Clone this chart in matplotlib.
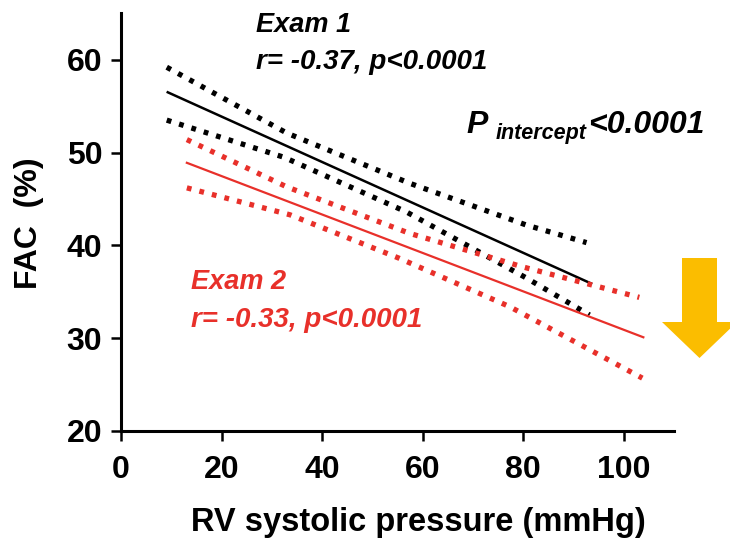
import numpy as np
import matplotlib.pyplot as plt
from matplotlib.patches import Polygon

plt.rcParams['font.family'] = ['Liberation Sans', 'DejaVu Sans']

# regression fits (FAC % vs RV systolic pressure), exam 1 and exam 2
exam1_fit_x = [9.3, 93.5]
exam1_fit_y = [56.5, 35.9]
exam1_upper_x = [9.1, 33.0, 57.4, 80.6, 92.6]
exam1_upper_y = [59.2, 52.1, 46.7, 42.2, 40.3]
exam1_lower_x = [9.1, 32.4, 56.8, 80.6, 93.2]
exam1_lower_y = [53.5, 49.5, 43.6, 36.5, 32.5]

exam2_fit_x = [13.1, 103.9]
exam2_fit_y = [48.9, 30.1]
exam2_upper_x = [13.1, 33.0, 57.4, 79.8, 103.1]
exam2_upper_y = [51.4, 46.3, 41.3, 37.7, 34.4]
exam2_lower_x = [13.1, 33.6, 55.4, 77.3, 103.7]
exam2_lower_y = [46.2, 43.3, 38.6, 33.4, 25.7]

x_ticks = [0, 20, 40, 60, 80, 100]
y_ticks = [20, 30, 40, 50, 60]

RED = '#e8302a'
GOLD = '#fbbd00'

W, H = 730, 542
fig = plt.figure(figsize=(W / 100, H / 100), dpi=100)
ax = fig.add_axes([121 / W, (H - 431) / H, 553 / W, 417.6 / H])


def fx(px):
    return px / W


def fy(py):
    return (H - py) / H


dot = dict(lw=3.8, linestyle=(0, (0.9, 1.55)), dash_capstyle='butt')

ax.plot(exam1_fit_x, exam1_fit_y, color='black', lw=1.8)
ax.plot(exam1_upper_x, exam1_upper_y, color='black', **dot)
ax.plot(exam1_lower_x, exam1_lower_y, color='black', **dot)

ax.plot(exam2_fit_x, exam2_fit_y, color=RED, lw=1.6)
ax.plot(exam2_upper_x, exam2_upper_y, color=RED, **dot)
ax.plot(exam2_lower_x, exam2_lower_y, color=RED, **dot)

ax.set_xlim(0, 110)
ax.set_ylim(20, 65)
ax.set_xticks(x_ticks)
ax.set_yticks(y_ticks)
for s in ['top', 'right']:
    ax.spines[s].set_visible(False)
for s in ['left', 'bottom']:
    ax.spines[s].set_linewidth(2.2)
ax.tick_params(axis='both', direction='out', length=7.5, width=1.8,
               labelsize=23)
ax.tick_params(axis='x', pad=10)
ax.tick_params(axis='y', pad=6)
for lab in ax.get_xticklabels() + ax.get_yticklabels():
    lab.set_fontweight('bold')

fig.text(fx(418), fy(523), 'RV systolic pressure (mmHg)', ha='center',
         va='center', fontsize=23.5, fontweight='bold')
fig.text(fx(29), fy(223), 'FAC  (%)', ha='center', va='center',
         rotation=90, fontsize=23, fontweight='bold')

bi = dict(fontweight='bold', fontstyle='italic', ha='left', va='baseline')
fig.text(fx(256), fy(32), 'Exam 1', fontsize=19.5, color='black', **bi)
fig.text(fx(256), fy(69), 'r= -0.37, p<0.0001', fontsize=20,
         color='black', **bi)
fig.text(fx(191), fy(289), 'Exam 2', fontsize=19.5, color=RED, **bi)
fig.text(fx(191), fy(327), 'r= -0.33, p<0.0001', fontsize=20,
         color=RED, **bi)

fig.text(fx(466), fy(133), 'P', fontsize=23, **bi)
fig.text(fx(496), fy(139), 'intercept', fontsize=15.5, **bi)
fig.text(fx(588), fy(133), '<0.0001', fontsize=23, **bi)

# downward arrow at the right edge
arrow_px = [(682, 258), (717, 258), (717, 322), (737, 322),
            (699.5, 358), (662, 322), (682, 322)]
arrow = Polygon([(fx(a), fy(b)) for a, b in arrow_px], closed=True,
                facecolor=GOLD, edgecolor='none', transform=fig.transFigure)
fig.patches.append(arrow)

fig.savefig('out.png', dpi=100)
